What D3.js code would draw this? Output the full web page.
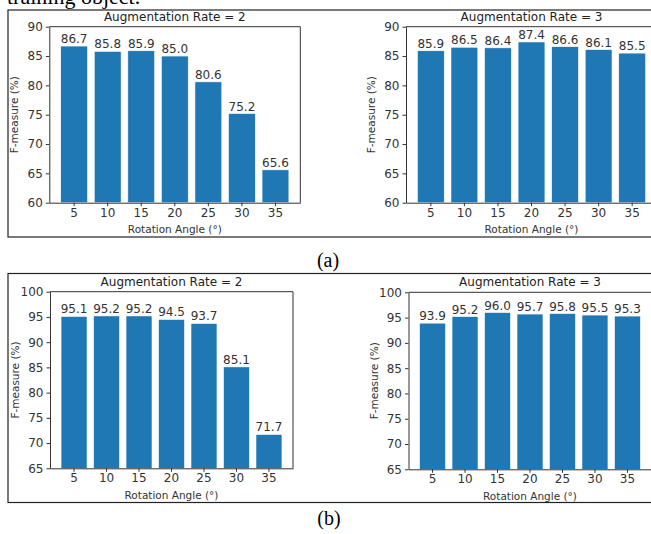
<!DOCTYPE html>
<html>
<head>
<meta charset="utf-8">
<script src="https://cdn.jsdelivr.net/npm/d3@7"></script>
<style>
  body { margin: 0; background: #fff; }
  svg { display: block; }
  .tick text { font-family: "DejaVu Sans", sans-serif; font-size: 12px; fill: #333; }
  .tick line, .domain { stroke: #333; }
</style>
</head>
<body>
<div id="chart"></div>
<script>
var svgWidth = 651;
var svgHeight = 534;

// rotation angles (x categories)
var angles = ["5", "10", "15", "20", "25", "30", "35"];

// (a) F-measure values
var aRate2 = [86.7, 85.8, 85.9, 85.0, 80.6, 75.2, 65.6];
var aRate3 = [85.9, 86.5, 86.4, 87.4, 86.6, 86.1, 85.5];
var aTicks = [60, 65, 70, 75, 80, 85, 90];

// (b) F-measure values
var bRate2 = [95.1, 95.2, 95.2, 94.5, 93.7, 85.1, 71.7];
var bRate3 = [93.9, 95.2, 96.0, 95.7, 95.8, 95.5, 95.3];
var bTicks = [65, 70, 75, 80, 85, 90, 95, 100];

var titles = ["Augmentation Rate = 2", "Augmentation Rate = 3"];

var svg = d3.select("#chart")
  .append("svg")
  .attr("width", svgWidth)
  .attr("height", svgHeight);

// cut-off line of text from the page above
svg.append("text")
  .attr("x", 7)
  .attr("y", 4)
  .style("font-family", "Liberation Serif, serif")
  .style("font-size", "22px")
  .attr("fill", "#000")
  .text("training object.");

// frames around each figure
svg.append("rect")
  .attr("x", 8).attr("y", 10)
  .attr("width", 660).attr("height", 227)
  .attr("fill", "none").attr("stroke", "#222").attr("stroke-width", 1.2);

svg.append("rect")
  .attr("x", 8).attr("y", 273.5)
  .attr("width", 660).attr("height", 229)
  .attr("fill", "none").attr("stroke", "#222").attr("stroke-width", 1.2);

function drawPlot(left, top, width, height, values, ticks, title) {
  var g = svg.append("g")
    .attr("transform", `translate(${left}, ${top})`);

  var x = d3.scaleBand()
    .domain(angles)
    .range([0, width])
    .paddingInner(0.2)
    .paddingOuter(0.34);

  var y = d3.scaleLinear()
    .domain([ticks[0], ticks[ticks.length - 1]])
    .range([height, 0]);

  var data = angles.map((a, i) => ({ angle: a, value: values[i] }));

  g.selectAll("rect.bar")
    .data(data)
    .enter()
    .append("rect")
    .attr("class", "bar")
    .attr("x", d => x(d.angle))
    .attr("y", d => y(d.value))
    .attr("width", x.bandwidth())
    .attr("height", d => height - y(d.value))
    .attr("fill", "#1f77b4")
    .attr("stroke", "#ffffff")
    .attr("stroke-width", 0.6);

  g.selectAll("text.val")
    .data(data)
    .enter()
    .append("text")
    .attr("class", "val")
    .attr("x", d => x(d.angle) + x.bandwidth() / 2)
    .attr("y", d => y(d.value) - 3)
    .attr("text-anchor", "middle")
    .style("font-family", "DejaVu Sans, sans-serif")
    .style("font-size", "12px")
    .attr("fill", "#333")
    .text(d => d.value.toFixed(1));

  g.append("g")
    .attr("transform", `translate(0, ${height})`)
    .call(d3.axisBottom(x).tickSize(3.5).tickSizeOuter(0).tickPadding(2));

  g.append("g")
    .call(d3.axisLeft(y).tickValues(ticks).tickSize(3.5).tickSizeOuter(0).tickPadding(3));

  // top and right spines
  g.append("line")
    .attr("x1", 0).attr("x2", width).attr("y1", 0).attr("y2", 0)
    .attr("stroke", "#333");
  g.append("line")
    .attr("x1", width).attr("x2", width).attr("y1", 0).attr("y2", height)
    .attr("stroke", "#333");

  g.append("text")
    .attr("x", width / 2)
    .attr("y", -6)
    .attr("text-anchor", "middle")
    .style("font-family", "DejaVu Sans, sans-serif")
    .style("font-size", "12px")
    .attr("fill", "#222")
    .text(title);

  g.append("text")
    .attr("x", width / 2)
    .attr("y", height + 30.5)
    .attr("text-anchor", "middle")
    .style("font-family", "DejaVu Sans, sans-serif")
    .style("font-size", "10.5px")
    .attr("fill", "#333")
    .text("Rotation Angle (°)");

  g.append("text")
    .attr("transform", "rotate(-90)")
    .attr("x", -height / 2)
    .attr("y", -31)
    .attr("text-anchor", "middle")
    .style("font-family", "DejaVu Sans, sans-serif")
    .style("font-size", "10.5px")
    .attr("fill", "#333")
    .text("F-measure (%)");
}

drawPlot(49.3, 26.7, 251, 176, aRate2, aTicks, titles[0]);
drawPlot(406, 26.7, 251, 176, aRate3, aTicks, titles[1]);
drawPlot(50, 291.7, 243, 176.6, bRate2, bTicks, titles[0]);
drawPlot(408.5, 292.3, 243, 177, bRate3, bTicks, titles[1]);

svg.append("text")
  .attr("x", 328).attr("y", 266.5)
  .attr("text-anchor", "middle")
  .style("font-family", "Liberation Serif, serif")
  .style("font-size", "20px")
  .attr("fill", "#000")
  .text("(a)");

svg.append("text")
  .attr("x", 329).attr("y", 525)
  .attr("text-anchor", "middle")
  .style("font-family", "Liberation Serif, serif")
  .style("font-size", "20px")
  .attr("fill", "#000")
  .text("(b)");
</script>
</body>
</html>
